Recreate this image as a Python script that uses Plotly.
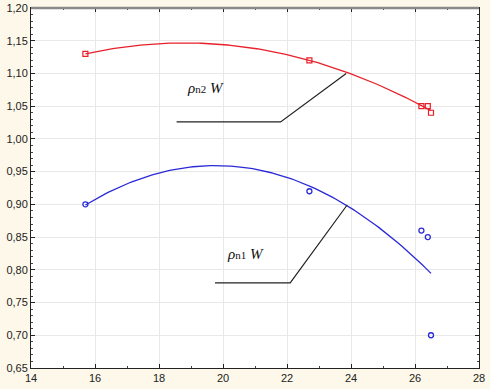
import numpy as np
import plotly.graph_objects as go

# data
x_n2 = [15.7, 22.7, 26.2, 26.4, 26.5]
y_n2 = [1.13, 1.12, 1.05, 1.05, 1.04]
x_n1 = [15.7, 22.7, 26.2, 26.4, 26.5]
y_n1 = [0.90, 0.92, 0.86, 0.85, 0.70]

x_ticks = [14, 16, 18, 20, 22, 24, 26, 28]
y_ticks = [0.65, 0.70, 0.75, 0.80, 0.85, 0.90, 0.95, 1.00, 1.05, 1.10, 1.15, 1.20]
y_tick_text = ["0,65", "0,70", "0,75", "0,80", "0,85", "0,90", "0,95", "1,00", "1,05", "1,10", "1,15", "1,20"]

# label leader lines (x, y) in data units
lead_n2_x = [18.55, 21.8, 23.85]
lead_n2_y = [1.026, 1.026, 1.10]
lead_n1_x = [19.75, 22.1, 23.88]
lead_n1_y = [0.78, 0.78, 0.899]

RED = "#e8202a"
BLUE = "#2a2ad8"

def quad_fit(xs, ys):
    c = np.polyfit(xs, ys, 2)
    xx = np.linspace(min(xs), max(xs), 120)
    return xx, np.polyval(c, xx)

fx2, fy2 = quad_fit(x_n2, y_n2)
fx1, fy1 = quad_fit(x_n1, y_n1)

fig = go.Figure()
fig.add_trace(go.Scatter(x=fx2, y=fy2, mode="lines", line=dict(color=RED, width=1.3), hoverinfo="skip"))
fig.add_trace(go.Scatter(x=fx1, y=fy1, mode="lines", line=dict(color=BLUE, width=1.3), hoverinfo="skip"))
fig.add_trace(go.Scatter(x=x_n2, y=y_n2, mode="markers",
                         marker=dict(symbol="square-open", size=5, color=RED, line=dict(width=1.2))))
fig.add_trace(go.Scatter(x=x_n1, y=y_n1, mode="markers",
                         marker=dict(symbol="circle-open", size=5, color=BLUE, line=dict(width=1.3))))
fig.add_trace(go.Scatter(x=lead_n2_x, y=lead_n2_y, mode="lines", line=dict(color="#222222", width=1.2)))
fig.add_trace(go.Scatter(x=lead_n1_x, y=lead_n1_y, mode="lines", line=dict(color="#222222", width=1.2)))

serif = "Liberation Serif, Times New Roman, serif"
fig.add_annotation(x=19.45, y=1.078, xref="x", yref="y", showarrow=False,
                   text="<i>ρ</i><span style='font-size:11px'>n2</span> <i>W</i>",
                   font=dict(family=serif, size=15, color="#111111"))
fig.add_annotation(x=20.7, y=0.824, xref="x", yref="y", showarrow=False,
                   text="<i>ρ</i><span style='font-size:11px'>n1</span> <i>W</i>",
                   font=dict(family=serif, size=15, color="#111111"))

# thick grey top frame line as in the reference
fig.add_shape(type="line", xref="paper", yref="paper", x0=0, x1=1, y0=1, y1=1,
              line=dict(color="#8a8a8a", width=2.5), layer="above")

axis_common = dict(showgrid=True, gridcolor="#e8e8e8", gridwidth=1, zeroline=False,
                   showline=True, linecolor="#222222", linewidth=1, mirror="ticks",
                   ticks="inside", ticklen=4, tickcolor="#222222", automargin=False,
                   tickfont=dict(family="Liberation Sans, Arial, sans-serif", size=11, color="#222222"))

fig.update_xaxes(range=[14, 28], tickvals=x_ticks, ticktext=[str(v) for v in x_ticks],
                 minor=dict(ticks="inside", ticklen=2, dtick=1, tickcolor="#444444", showgrid=False),
                 **axis_common)
fig.update_yaxes(range=[0.65, 1.20], tickvals=y_ticks, ticktext=y_tick_text,
                 minor=dict(ticks="inside", ticklen=2, dtick=0.01, tickcolor="#444444", showgrid=False),
                 **axis_common)

fig.update_layout(width=490, height=389, showlegend=False,
                  margin=dict(l=31, r=11, t=8, b=21),
                  paper_bgcolor="#fdf8e9", plot_bgcolor="#ffffff")

fig.write_html("out.html", config={"displayModeBar": False},
               post_script="document.body.style.margin='0';document.body.style.background='#fdf8e9';")
